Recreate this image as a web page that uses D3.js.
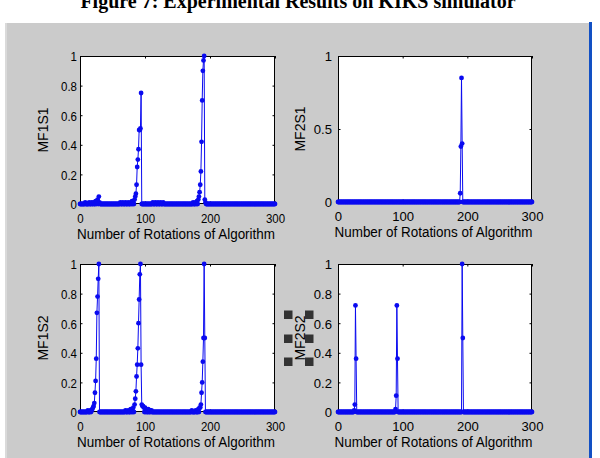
<!DOCTYPE html>
<html><head><meta charset="utf-8">
<script src="https://cdn.jsdelivr.net/npm/d3@7"></script>
<style>body{margin:0;background:#fff;overflow:hidden}</style>
</head><body>
<svg id="c" width="600" height="458" xmlns="http://www.w3.org/2000/svg"></svg>
<script>
// ---------- data ----------
const titleText = "Figure 7: Experimental Results on KIKS simulator";
const xLabelText = "Number of Rotations of Algorithm";
const rotations = d3.range(0, 301);           // rotation index 0..300
const xTicks = [0, 100, 200, 300];
const yTicksFine = [0, 0.2, 0.4, 0.6, 0.8, 1];
const yTicksCoarse = [0, 0.5, 1];
// non-zero readings [rotation, value]; every other rotation reads 0
const mf1s1 = [[8,0.01],[14,0.01],[18,0.01],[21,0.01],[24,0.02],[26,0.02],[27,0.03],[29,0.05],[30,0.01],
  [62,0.01],[66,0.01],[70,0.01],[74,0.01],[78,0.01],[80,0.02],[82,0.02],[84,0.03],[85,0.05],[86,0.07],[87,0.13],[88,0.25],[89,0.3],[90,0.37],[91,0.5],[92,0.5],[93,0.51],[94,0.75],
  [112,0.01],[116,0.01],[120,0.01],[124,0.01],[128,0.01],
  [174,0.01],[178,0.01],[180,0.02],[182,0.03],[183,0.05],[184,0.08],[185,0.13],[186,0.22],[187,0.42],[188,0.7],[189,0.9],[190,0.97],[191,1.0],[192,0.03],[193,0.01]];
const mf2s1 = [[189,0.06],[190,0.38],[191,0.85],[192,0.4]];
const mf1s2 = [[12,0.01],[16,0.01],[18,0.01],[19,0.02],[20,0.03],[21,0.04],[22,0.06],[23,0.13],[24,0.21],[25,0.36],[26,0.67],[27,0.78],[28,0.9],[29,1.0],
  [70,0.01],[74,0.01],[78,0.02],[80,0.02],[82,0.03],[84,0.05],[85,0.09],[86,0.14],[87,0.24],[88,0.32],[89,0.43],[90,0.6],[91,0.76],[92,0.93],[93,1.0],[94,0.32],[95,0.05],[96,0.04],[97,0.04],[98,0.03],[100,0.03],[102,0.02],[105,0.02],[108,0.01],[110,0.01],
  [172,0.01],[178,0.01],[182,0.02],[184,0.03],[185,0.03],[186,0.05],[187,0.13],[188,0.2],[189,0.34],[190,0.5],[191,1.0],[192,0.5]];
const mf2s2 = [[25,0.01],[26,0.05],[27,0.72],[28,0.36],[89,0.02],[90,0.11],[91,0.72],[92,0.36],[192,1.0],[193,0.5]];

// ---------- layout ----------
const blue = "#0a0af0";
const font = "'Liberation Sans', Arial, sans-serif";
const svg = d3.select("#c");

svg.append("rect").attr("x",5).attr("y",23).attr("width",584).attr("height",435).attr("fill","#cbcbcb");
svg.append("rect").attr("x",5).attr("y",23).attr("width",2).attr("height",435).attr("fill","#dadada");
svg.append("rect").attr("x",589).attr("y",22).attr("width",3).attr("height",436).attr("fill","#1250c4");

svg.append("text").attr("x",298).attr("y",7.5).attr("text-anchor","middle")
  .attr("font-family","'Liberation Serif','Times New Roman',serif").attr("font-weight","bold")
  .attr("font-size",20).attr("fill","#000").text(titleText);

const panels = [
  {name:"MF1S1", data:mf1s1, yt:yTicksFine,  x0:80,  x1:275, top:56,  bottom:204, lx:43,  tickScale:0.85, pad:3},
  {name:"MF2S1", data:mf2s1, yt:yTicksCoarse,x0:338, x1:532, top:56,  bottom:202, lx:300, tickScale:0.97, pad:6},
  {name:"MF1S2", data:mf1s2, yt:yTicksFine,  x0:80,  x1:275, top:264, bottom:412, lx:43,  tickScale:0.85, pad:3},
  {name:"MF2S2", data:mf2s2, yt:yTicksFine,  x0:338, x1:532, top:264, bottom:412, lx:300, tickScale:0.97, pad:6, handles:true}
];

function fmt(v){ return v === 0 ? "0" : (v === 1 ? "1" : String(v)); }

panels.forEach(p => {
  const lookup = new Map(p.data);
  const series = rotations.map(r => ({r, v: lookup.has(r) ? lookup.get(r) : 0}));
  const x = d3.scaleLinear().domain([0,300]).range([p.x0, p.x1]);
  const y = d3.scaleLinear().domain([0,1]).range([p.bottom, p.top]);
  const g = svg.append("g");
  g.append("rect").attr("x",p.x0).attr("y",p.top).attr("width",p.x1-p.x0).attr("height",p.bottom-p.top)
    .attr("fill","#fff");

  const tk = 2.5;
  const ax = [
    g.append("g").attr("transform",`translate(0,${p.bottom})`).call(d3.axisBottom(x).tickValues(xTicks).tickFormat(fmt).tickSizeInner(-tk).tickSizeOuter(0).tickPadding(5)),
    g.append("g").attr("transform",`translate(0,${p.top})`).call(d3.axisTop(x).tickValues(xTicks).tickFormat("").tickSizeInner(-tk).tickSizeOuter(0)),
    g.append("g").attr("transform",`translate(${p.x0},0)`).call(d3.axisLeft(y).tickValues(p.yt).tickFormat(fmt).tickSizeInner(-tk).tickSizeOuter(0).tickPadding(p.pad)),
    g.append("g").attr("transform",`translate(${p.x1},0)`).call(d3.axisRight(y).tickValues(p.yt).tickFormat("").tickSizeInner(-tk).tickSizeOuter(0))
  ];
  ax.forEach(a => {
    a.select(".domain").remove();
    a.selectAll("line").attr("stroke","#000").attr("stroke-width",1);
    a.selectAll("text").attr("font-family",font).attr("font-size",13.5).attr("fill","#000");
  });
  ax[0].selectAll("text").attr("dy",null).attr("y",18.5);
  ax[2].selectAll("text").attr("dy","0.36em");
  [ax[0], ax[2]].forEach(a => a.selectAll("text").each(function(){
    const w = this.getComputedTextLength();
    d3.select(this).attr("textLength", w*p.tickScale).attr("lengthAdjust","spacingAndGlyphs");
  }));

  g.append("rect").attr("x",p.x0+0.5).attr("y",p.top+0.5).attr("width",p.x1-p.x0-1).attr("height",p.bottom-p.top-1)
    .attr("fill","none").attr("stroke","#000").attr("stroke-width",1);

  const line = d3.line().x(d => x(d.r)).y(d => y(d.v));
  g.append("path").datum(series).attr("d",line).attr("fill","none").attr("stroke",blue).attr("stroke-width",1);
  g.selectAll("circle.pt").data(series).join("circle").attr("class","pt")
    .attr("cx",d => x(d.r)).attr("cy",d => y(d.v)).attr("r",2.4).attr("fill",blue);

  const xl = g.append("text").attr("x",(p.x0+p.x1)/2-1.5).attr("y",p.bottom+35).attr("text-anchor","middle")
    .attr("font-family",font).attr("font-size",14).attr("fill","#000").text(xLabelText);
  xl.attr("textLength",198).attr("lengthAdjust","spacingAndGlyphs");

  const cy = (p.top+p.bottom)/2;
  g.append("text").attr("transform",`translate(${p.lx},${cy}) rotate(-90)`).attr("text-anchor","middle")
    .attr("dy","0.36em").attr("font-family",font).attr("font-size",14).attr("fill","#000").text(p.name);

  if (p.handles) {
    const hx = [p.lx-16, p.lx+5], hy = [cy-27.5, cy-3.5, cy+19.5];
    hx.forEach(a => hy.forEach(b => g.append("rect").attr("x",a).attr("y",b).attr("width",8.5).attr("height",8.5).attr("fill","#333")));
  }
});
</script>
</body></html>
